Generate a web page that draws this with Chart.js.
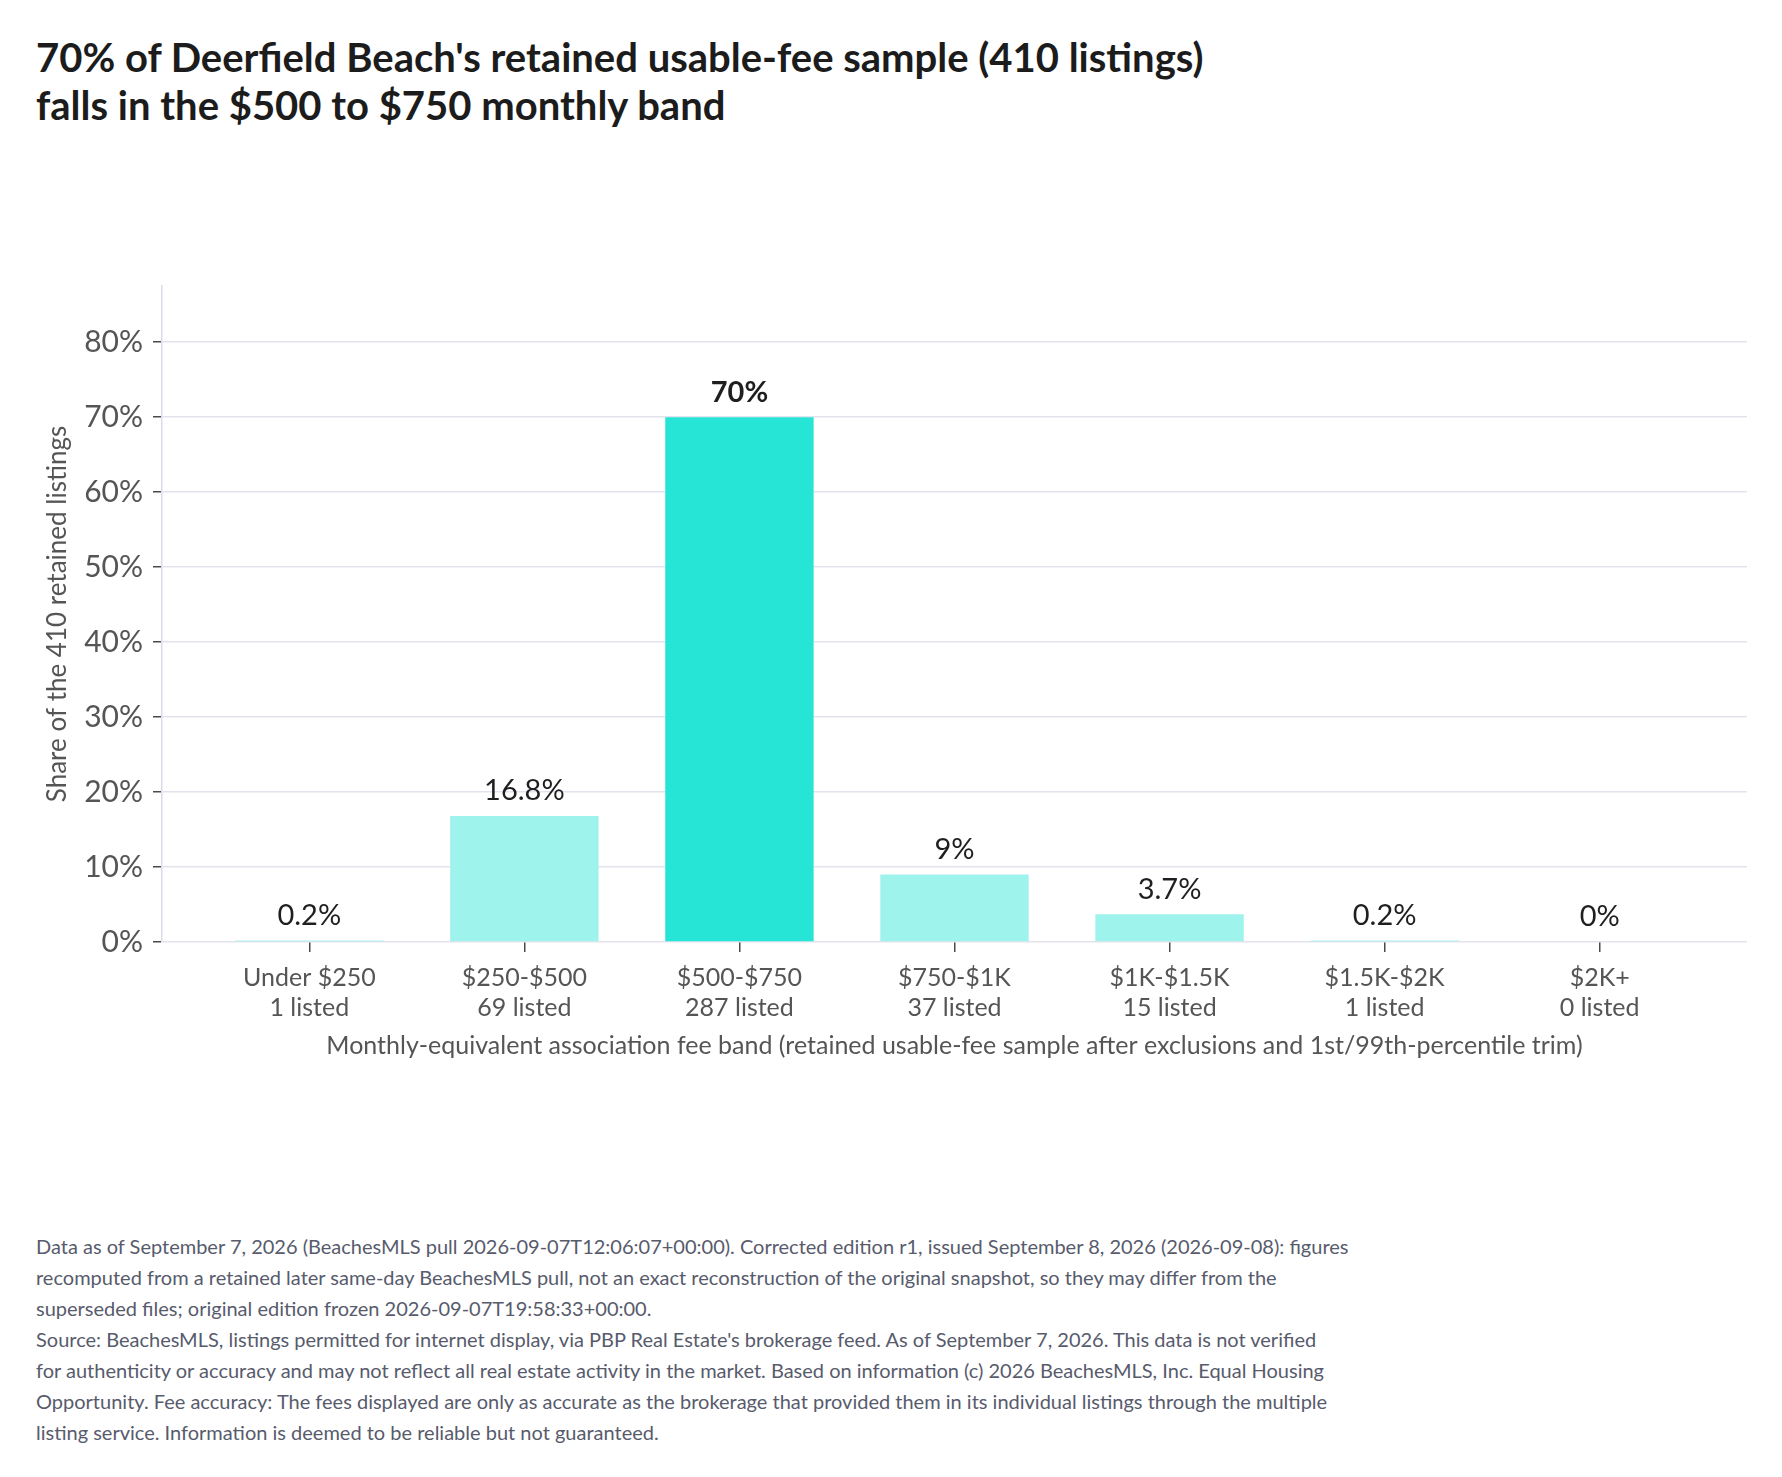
<!DOCTYPE html>
<html>
<head>
<meta charset="utf-8">
<script src="https://cdn.jsdelivr.net/npm/chart.js@4"></script>
<style>
  body { margin: 0; background: #fff; font-family: Lato, sans-serif; }
  #page { position: relative; width: 1782px; height: 1477px; background: #fff; }
  #title { position: absolute; left: 36px; top: 33px; font-size: 40px; font-weight: 700; line-height: 48px; color: #1c1c1c; }
  #chartBox { position: absolute; left: 0; top: 250px; width: 1782px; height: 816px; }
  #notes { position: absolute; left: 36px; top: 1231px; font-size: 20px; line-height: 31px; color: #575b6c; white-space: nowrap; }
</style>
</head>
<body>
<div id="page">
  <div id="title">70% of Deerfield Beach's retained usable-fee sample (410 listings)<br>falls in the $500 to $750 monthly band</div>
  <div id="chartBox"><canvas id="feeChart"></canvas></div>
  <div id="notes">
    <div>Data as of September 7, 2026 (BeachesMLS pull 2026-09-07T12:06:07+00:00). Corrected edition r1, issued September 8, 2026 (2026-09-08): figures</div>
    <div>recomputed from a retained later same-day BeachesMLS pull, not an exact reconstruction of the original snapshot, so they may differ from the</div>
    <div>superseded files; original edition frozen 2026-09-07T19:58:33+00:00.</div>
    <div>Source: BeachesMLS, listings permitted for internet display, via PBP Real Estate's brokerage feed. As of September 7, 2026. This data is not verified</div>
    <div>for authenticity or accuracy and may not reflect all real estate activity in the market. Based on information (c) 2026 BeachesMLS, Inc. Equal Housing</div>
    <div>Opportunity. Fee accuracy: The fees displayed are only as accurate as the brokerage that provided them in its individual listings through the multiple</div>
    <div>listing service. Information is deemed to be reliable but not guaranteed.</div>
  </div>
</div>
<script>
const bands = ["Under $250", "$250-$500", "$500-$750", "$750-$1K", "$1K-$1.5K", "$1.5K-$2K", "$2K+"];
const listedCounts = [1, 69, 287, 37, 15, 1, 0];
const sharePct = [0.2, 16.8, 70, 9, 3.7, 0.2, 0];
const yTickValues = [0, 10, 20, 30, 40, 50, 60, 70, 80];

const topIndex = sharePct.indexOf(Math.max(...sharePct));
const barColors = sharePct.map((v, i) => (i === topIndex ? "#26e5d6" : "#9ef3ec"));

// value labels above each bar
const barLabels = {
  id: "barLabels",
  afterDatasetsDraw(chart) {
    const ctx = chart.ctx;
    const meta = chart.getDatasetMeta(0);
    ctx.save();
    ctx.textAlign = "center";
    ctx.textBaseline = "middle";
    ctx.fillStyle = "#1f1f1f";
    meta.data.forEach((bar, i) => {
      ctx.font = (i === topIndex ? "700 " : "400 ") + "29px Lato";
      ctx.fillText(sharePct[i] + "%", bar.x, bar.y - 25);
    });
    ctx.restore();
  }
};

const ctx = document.getElementById("feeChart").getContext("2d");
new Chart(ctx, {
  type: "bar",
  data: {
    datasets: [{
      data: sharePct.map((v, i) => ({ x: i, y: v })),
      backgroundColor: barColors,
      borderWidth: 0,
      barPercentage: 0.69,
      categoryPercentage: 1
    }]
  },
  options: {
    responsive: true,
    maintainAspectRatio: false,
    animation: false,
    layout: { padding: { left: 40, right: 35, top: 36, bottom: 5 } },
    plugins: {
      legend: { display: false },
      tooltip: { enabled: false }
    },
    scales: {
      x: {
        type: "linear",
        offset: false,
        min: -0.685,
        max: 6.685,
        afterBuildTicks: (axis) => { axis.ticks = bands.map((b, i) => ({ value: i })); },
        afterFit: (scale) => { scale.height = 119; },
        border: { display: false },
        grid: { offset: false, drawOnChartArea: false, drawTicks: true, tickLength: 10, tickColor: "#4a4a4a", lineWidth: 1.5 },
        ticks: {
          padding: 11,
          autoSkip: false,
          maxRotation: 0,
          color: "#555",
          font: { family: "Lato", size: 25, lineHeight: 1.2 },
          callback: (v) => [bands[v], listedCounts[v] + " listed"]
        },
        title: {
          display: true,
          text: "Monthly-equivalent association fee band (retained usable-fee sample after exclusions and 1st/99th-percentile trim)",
          color: "#555",
          font: { family: "Lato", size: 25, lineHeight: 1.2 },
          padding: { top: 0, bottom: 0 }
        }
      },
      y: {
        min: 0,
        max: 87.5,
        afterBuildTicks: (axis) => { axis.ticks = yTickValues.map((v) => ({ value: v })); },
        afterFit: (scale) => { scale.width = 122; },
        border: { display: true, color: "#dcdce8", width: 1.5 },
        grid: { color: "#e3e3ee", lineWidth: 1.5, tickLength: 9, tickColor: "#4a4a4a" },
        ticks: {
          padding: 10,
          color: "#555",
          font: { family: "Lato", size: 30 },
          callback: (v) => v + "%"
        },
        title: {
          display: true,
          text: "Share of the 410 retained listings",
          color: "#555",
          font: { family: "Lato", size: 26, lineHeight: 1.2 },
          padding: { top: 2, bottom: 0 }
        }
      }
    }
  },
  plugins: [barLabels]
});
</script>
</body>
</html>
